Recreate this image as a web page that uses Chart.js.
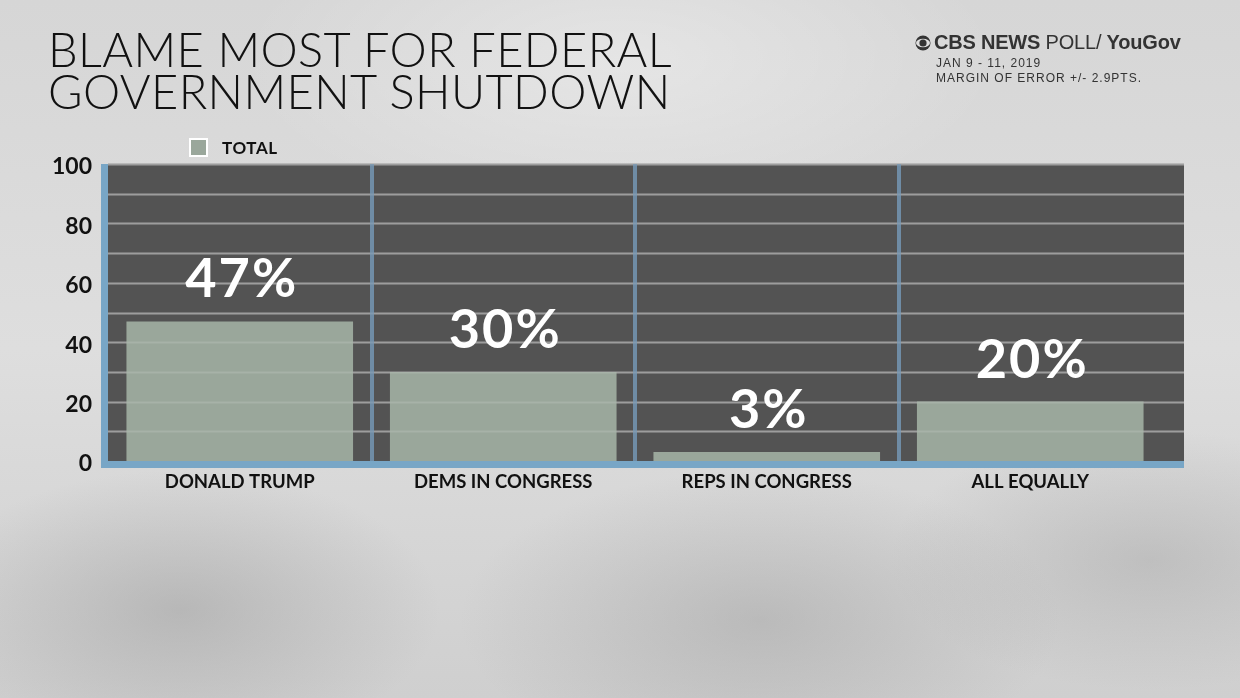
<!DOCTYPE html>
<html>
<head>
<meta charset="utf-8">
<script src="https://cdn.jsdelivr.net/npm/chart.js@4.4.1/dist/chart.umd.min.js"></script>
<style>
  html, body { margin:0; padding:0; }
  body {
    width:1240px; height:698px; overflow:hidden; position:relative;
    background:
      radial-gradient(ellipse 260px 140px at 180px 610px, rgba(150,150,150,0.45), rgba(150,150,150,0) 100%),
      radial-gradient(ellipse 300px 150px at 760px 620px, rgba(150,150,150,0.40), rgba(150,150,150,0) 100%),
      radial-gradient(ellipse 260px 130px at 1150px 560px, rgba(150,150,150,0.35), rgba(150,150,150,0) 100%),
      radial-gradient(ellipse 380px 160px at 620px 60px, rgba(255,255,255,0.35), rgba(255,255,255,0) 100%),
      linear-gradient(180deg, #d6d6d6 0%, #dedede 50%, #cfcfcf 100%);
    font-family: Lato, "Open Sans", sans-serif;
  }
  #wrap { position:absolute; left:0; top:0; width:1240px; height:698px; }
  .title { position:absolute; left:48px; top:28px; font-size:47px; line-height:42px; color:#111; font-weight:300; letter-spacing:0.4px; }
  .src { position:absolute; left:914px; top:31px; color:#333; }
  .src .brand { font-family:"Liberation Sans", Arial, sans-serif; font-size:20px; line-height:22px; color:#333; white-space:nowrap; letter-spacing:-0.2px; }
  .src .brand b { font-weight:700; }
  .src .sub { font-family:"Liberation Sans", Arial, sans-serif; font-size:12px; line-height:15px; letter-spacing:1px; margin-left:22px; margin-top:3px; color:#333; }
  .legend { position:absolute; left:189px; top:137px; display:flex; align-items:center; }
  .legend .box { width:15px; height:15px; background:#9aa79b; border:2px solid #fff; }
  .legend .lbl { margin-left:14px; font-size:17px; font-weight:700; color:#111; letter-spacing:0.6px; }
</style>
</head>
<body>
<div id="wrap"><canvas id="c" width="1240" height="698"></canvas></div>
<div class="title">BLAME MOST FOR FEDERAL<br>GOVERNMENT SHUTDOWN</div>
<div class="src">
  <div class="brand"><svg width="18" height="16" viewBox="0 0 18 16" style="vertical-align:-2px;margin-right:2px"><circle cx="9" cy="8" r="7.5" fill="#333"/><ellipse cx="9" cy="8" rx="7" ry="4.2" fill="#ddd"/><circle cx="9" cy="8" r="3.6" fill="#333"/></svg><b>CBS NEWS</b> POLL/ <b>YouGov</b></div>
  <div class="sub">JAN 9 - 11, 2019<br>MARGIN OF ERROR +/- 2.9PTS.</div>
</div>
<div class="legend"><div class="box"></div><div class="lbl">TOTAL</div></div>
<script>
const categories = ["DONALD TRUMP", "DEMS IN CONGRESS", "REPS IN CONGRESS", "ALL EQUALLY"];
const totalValues = [47, 30, 3, 20];
const valueLabels = ["47%", "30%", "3%", "20%"];
const yTickValues = [0, 20, 40, 60, 80, 100];

const PLOT_RIGHT_EXT = 1184;
const BLUE = "#78a6c6";

const decor = {
  id: "decor",
  beforeDraw(chart) {
    const {ctx, chartArea: a, scales: {y}} = chart;
    ctx.save();
    ctx.fillStyle = "#535353";
    ctx.fillRect(a.left, a.top, PLOT_RIGHT_EXT - a.left, a.bottom - a.top);
    ctx.strokeStyle = "#8f8f8f";
    ctx.lineWidth = 2;
    for (let v = 10; v <= 100; v += 10) {
      const py = Math.round(y.getPixelForValue(v)) + 0.5;
      ctx.beginPath(); ctx.moveTo(a.left, py); ctx.lineTo(PLOT_RIGHT_EXT, py); ctx.stroke();
    }
    ctx.restore();
  },
  afterDatasetsDraw(chart) {
    const {ctx, chartArea: a, scales: {y}} = chart;
    ctx.save();
    ctx.strokeStyle = "rgba(255,255,255,0.13)";
    ctx.lineWidth = 2;
    for (let v = 10; v <= 100; v += 10) {
      const py = Math.round(y.getPixelForValue(v)) + 0.5;
      ctx.beginPath(); ctx.moveTo(a.left, py); ctx.lineTo(PLOT_RIGHT_EXT, py); ctx.stroke();
    }
    ctx.fillStyle = BLUE;
    ctx.fillRect(a.left - 7, a.top, 7, a.bottom - a.top + 7);
    ctx.fillRect(a.left - 7, a.bottom, PLOT_RIGHT_EXT - a.left + 7, 7);
    const meta = chart.getDatasetMeta(0);
    ctx.fillStyle = "#ffffff";
    ctx.font = "bold 54px Lato, 'Open Sans', sans-serif";
    if ('letterSpacing' in ctx) ctx.letterSpacing = "2px";
    ctx.textAlign = "center";
    ctx.textBaseline = "alphabetic";
    meta.data.forEach((bar, i) => {
      ctx.fillText(valueLabels[i], bar.x + 2, bar.y - 24);
    });
    ctx.restore();
  }
};

new Chart(document.getElementById("c"), {
  type: "bar",
  data: {
    labels: categories,
    datasets: [{
      label: "TOTAL",
      data: totalValues,
      backgroundColor: "#9aa79b",
      borderWidth: 0,
      categoryPercentage: 1.0,
      barPercentage: 0.86
    }]
  },
  options: {
    responsive: false,
    animation: false,
    layout: { padding: { top: 164, right: 78, bottom: 0, left: 0 } },
    plugins: { legend: { display: false }, tooltip: { enabled: false }, title: { display: false } },
    scales: {
      x: {
        afterFit(s) { s.height = 698 - 461; },
        border: { display: false },
        grid: {
          offset: true,
          drawTicks: false,
          lineWidth: 4,
          color: (c) => (c.type === "tick" && c.index > 0 && c.index < categories.length) ? "#6f8ca5" : "rgba(0,0,0,0)"
        },
        ticks: {
          padding: 10,
          color: "#111",
          font: { family: "Lato, 'Open Sans', sans-serif", size: 18.5, weight: "bold" }
        }
      },
      y: {
        min: 0, max: 100,
        afterFit(s) { s.width = 108; },
        border: { display: false },
        grid: { display: false, drawTicks: false },
        afterBuildTicks(s) { s.ticks = yTickValues.map(v => ({ value: v })); },
        ticks: {
          padding: 16,
          labelOffset: 3,
          color: "#111",
          font: { family: "Lato, 'Open Sans', sans-serif", size: 23, weight: "bold" }
        }
      }
    }
  },
  plugins: [decor]
});
</script>
</body>
</html>
